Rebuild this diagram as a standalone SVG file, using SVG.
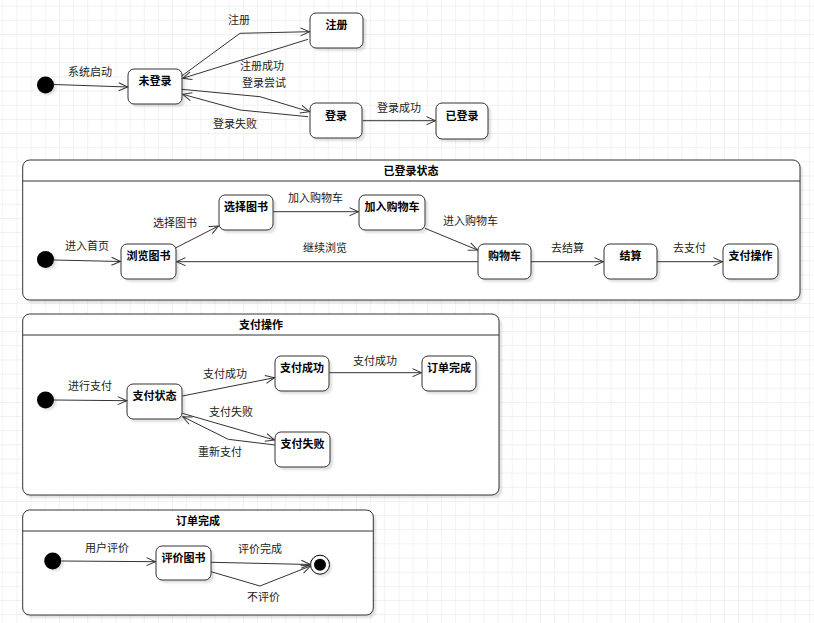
<svg xmlns="http://www.w3.org/2000/svg" width="814" height="623" viewBox="0 0 814 623">
<defs>
<pattern id="grid" x="2.3" y="5.7" width="14.15" height="14.15" patternUnits="userSpaceOnUse">
<path d="M0,0 H14.15 M0,0 V14.15" fill="none" stroke="#ebebeb" stroke-width="1.2"/>
</pattern>
<marker id="arr" markerWidth="12" markerHeight="10" refX="10" refY="5" orient="auto" markerUnits="userSpaceOnUse">
<path d="M1,1 L10,5 L1,9" fill="none" stroke="#333" stroke-width="1"/>
</marker>
<filter id="sh" x="-20%" y="-20%" width="150%" height="150%">
<feGaussianBlur stdDeviation="1.2"/>
</filter>
</defs>
<style>
.st{fill:#fff;stroke:#333;stroke-width:1}
.sd{fill:#000;opacity:0.12;filter:url(#sh)}
.nt{font-family:"Noto Sans CJK SC","Liberation Sans",sans-serif;font-size:11px;font-weight:bold;fill:#000;text-anchor:middle}
.lb{font-family:"Noto Sans CJK SC","Liberation Sans",sans-serif;font-size:11px;fill:#222}
.ed{fill:none;stroke:#333;stroke-width:1;marker-end:url(#arr)}
.ini{fill:#000}
</style>
<rect x="0" y="0" width="814" height="623" fill="#fff"/>
<rect x="0" y="0" width="814" height="623" fill="url(#grid)"/>

<!-- top level -->
<g id="init-top"><circle cx="48" cy="87" r="8.5" class="sd"/><circle cx="45.5" cy="85" r="8.5" class="ini"/></g>
<g id="n-weidenglu"><rect x="131" y="72" width="54" height="35" rx="6" class="sd"/><rect x="128" y="69" width="54" height="35" rx="6" class="st"/><text x="155" y="85" class="nt">未登录</text></g>
<g id="n-zhuce"><rect x="313" y="16" width="53" height="35" rx="6" class="sd"/><rect x="310" y="13" width="53" height="35" rx="6" class="st"/><text x="336.5" y="29" class="nt">注册</text></g>
<g id="n-denglu"><rect x="313" y="106" width="52" height="35" rx="6" class="sd"/><rect x="310" y="103" width="52" height="35" rx="6" class="st"/><text x="336" y="120" class="nt">登录</text></g>
<g id="n-yidenglu"><rect x="439" y="106" width="52" height="36" rx="6" class="sd"/><rect x="436" y="103" width="52" height="36" rx="6" class="st"/><text x="462" y="120" class="nt">已登录</text></g>

<!-- composite 1 -->
<g id="c-yidenglu">
<rect x="25.5" y="163" width="777" height="140" rx="7" class="sd"/>
<rect x="22.7" y="160" width="777.3" height="140" rx="7" class="st"/>
<line x1="22.7" y1="181" x2="800" y2="181" stroke="#333"/>
<text x="411" y="175" class="nt">已登录状态</text>
</g>
<g id="init-c1"><circle cx="48" cy="261.5" r="8.5" class="sd"/><circle cx="45.5" cy="259.5" r="8.5" class="ini"/></g>
<g id="n-liulan"><rect x="124" y="247" width="55" height="35" rx="6" class="sd"/><rect x="121" y="244" width="55" height="35" rx="6" class="st"/><text x="148.5" y="260" class="nt">浏览图书</text></g>
<g id="n-xuanze"><rect x="222" y="198" width="54" height="35" rx="6" class="sd"/><rect x="219" y="195" width="54" height="35" rx="6" class="st"/><text x="246" y="211" class="nt">选择图书</text></g>
<g id="n-jiaru"><rect x="362" y="198" width="66" height="35" rx="6" class="sd"/><rect x="359" y="195" width="66" height="35" rx="6" class="st"/><text x="392" y="211" class="nt">加入购物车</text></g>
<g id="n-gouwuche"><rect x="481" y="247" width="53" height="35" rx="6" class="sd"/><rect x="478" y="244" width="53" height="35" rx="6" class="st"/><text x="504.5" y="260" class="nt">购物车</text></g>
<g id="n-jiesuan"><rect x="607" y="247" width="53" height="35" rx="6" class="sd"/><rect x="604" y="244" width="53" height="35" rx="6" class="st"/><text x="630.5" y="260" class="nt">结算</text></g>
<g id="n-zhifucaozuo"><rect x="726" y="247" width="55" height="35" rx="6" class="sd"/><rect x="723" y="244" width="55" height="35" rx="6" class="st"/><text x="750.5" y="260" class="nt">支付操作</text></g>

<!-- composite 2 -->
<g id="c-zhifu">
<rect x="25.5" y="317" width="476.5" height="181" rx="7" class="sd"/>
<rect x="22.7" y="314" width="476.3" height="181" rx="7" class="st"/>
<line x1="22.7" y1="335" x2="499" y2="335" stroke="#333"/>
<text x="261" y="329" class="nt">支付操作</text>
</g>
<g id="init-c2"><circle cx="48" cy="402" r="8.5" class="sd"/><circle cx="45.5" cy="400" r="8.5" class="ini"/></g>
<g id="n-zhifuzhuangtai"><rect x="130" y="387" width="55" height="35" rx="6" class="sd"/><rect x="127" y="384" width="55" height="35" rx="6" class="st"/><text x="154.5" y="400" class="nt">支付状态</text></g>
<g id="n-zhifuchenggong"><rect x="278" y="359" width="54" height="35" rx="6" class="sd"/><rect x="275" y="356" width="54" height="35" rx="6" class="st"/><text x="302" y="372" class="nt">支付成功</text></g>
<g id="n-dingdanwancheng"><rect x="425" y="359" width="54" height="35" rx="6" class="sd"/><rect x="422" y="356" width="54" height="35" rx="6" class="st"/><text x="449" y="372" class="nt">订单完成</text></g>
<g id="n-zhifushibai"><rect x="278" y="435" width="55" height="35" rx="6" class="sd"/><rect x="275" y="432" width="55" height="35" rx="6" class="st"/><text x="302.5" y="448" class="nt">支付失败</text></g>

<!-- composite 3 -->
<g id="c-dingdan">
<rect x="25.5" y="513" width="350.5" height="105" rx="7" class="sd"/>
<rect x="22.7" y="510" width="350.6" height="105" rx="7" class="st"/>
<line x1="22.7" y1="531" x2="373.3" y2="531" stroke="#333"/>
<text x="198" y="525" class="nt">订单完成</text>
</g>
<g id="init-c3"><circle cx="55" cy="563" r="8.5" class="sd"/><circle cx="52.7" cy="561" r="8.5" class="ini"/></g>
<g id="n-pingjia"><rect x="159" y="549" width="55" height="34" rx="6" class="sd"/><rect x="156" y="546" width="55" height="34" rx="6" class="st"/><text x="183.5" y="562" class="nt">评价图书</text></g>
<g id="final"><circle cx="322.5" cy="567" r="9.5" class="sd"/><circle cx="320" cy="564.7" r="9.5" fill="#fff" stroke="#000" stroke-width="1"/><circle cx="320" cy="564.7" r="6" fill="#000"/></g>

<g id="connectors">
<path class="ed" d="M54,84.5 L127.7,87"/>
<path class="ed" d="M181.7,76 L240,33.3 L309.5,31.7"/>
<path class="ed" d="M308,39.3 L182.7,78.3"/>
<path class="ed" d="M181.7,89.3 L260,96.7 L309.5,111.7"/>
<path class="ed" d="M308,116.7 L240,110 L182.7,94.3"/>
<path class="ed" d="M362.7,120.7 L435.5,120.7"/>

<path class="ed" d="M54,260 L120.5,261.5"/>
<path class="ed" d="M176,247.7 L218.5,226"/>
<path class="ed" d="M273.3,211.7 L358.5,211.7"/>
<path class="ed" d="M425,228.3 L477.5,250"/>
<path class="ed" d="M478,261.7 L176.5,261.7"/>
<path class="ed" d="M531,261.7 L603.5,261.7"/>
<path class="ed" d="M657,261.7 L722.5,261.7"/>

<path class="ed" d="M54,400 L126.8,400.7"/>
<path class="ed" d="M182.3,396 L274.5,377.7"/>
<path class="ed" d="M329.3,372.7 L421.5,372.7"/>
<path class="ed" d="M182.3,413.3 L274.5,440"/>
<path class="ed" d="M275,445 L228.3,439.3 L182.8,416.7"/>

<path class="ed" d="M61.5,561 L155.5,561.7"/>
<path class="ed" d="M211,562.3 L310.3,564.5"/>
<path class="ed" d="M211,571.7 L260,586 L310.5,566"/>
</g>

<g id="labels">
<text x="68" y="76" class="lb">系统启动</text>
<text x="228" y="24" class="lb">注册</text>
<text x="240" y="70" class="lb">注册成功</text>
<text x="242" y="87" class="lb">登录尝试</text>
<text x="213" y="128" class="lb">登录失败</text>
<text x="377" y="112" class="lb">登录成功</text>

<text x="65" y="250" class="lb">进入首页</text>
<text x="153" y="227" class="lb">选择图书</text>
<text x="288" y="202" class="lb">加入购物车</text>
<text x="443" y="225" class="lb">进入购物车</text>
<text x="303" y="252" class="lb">继续浏览</text>
<text x="551" y="252" class="lb">去结算</text>
<text x="673" y="252" class="lb">去支付</text>

<text x="68" y="390" class="lb">进行支付</text>
<text x="203" y="378" class="lb">支付成功</text>
<text x="353" y="364.5" class="lb">支付成功</text>
<text x="209" y="416" class="lb">支付失败</text>
<text x="198" y="455.5" class="lb">重新支付</text>

<text x="85" y="551.5" class="lb">用户评价</text>
<text x="238" y="553" class="lb">评价完成</text>
<text x="247" y="601" class="lb">不评价</text>
</g>
</svg>
